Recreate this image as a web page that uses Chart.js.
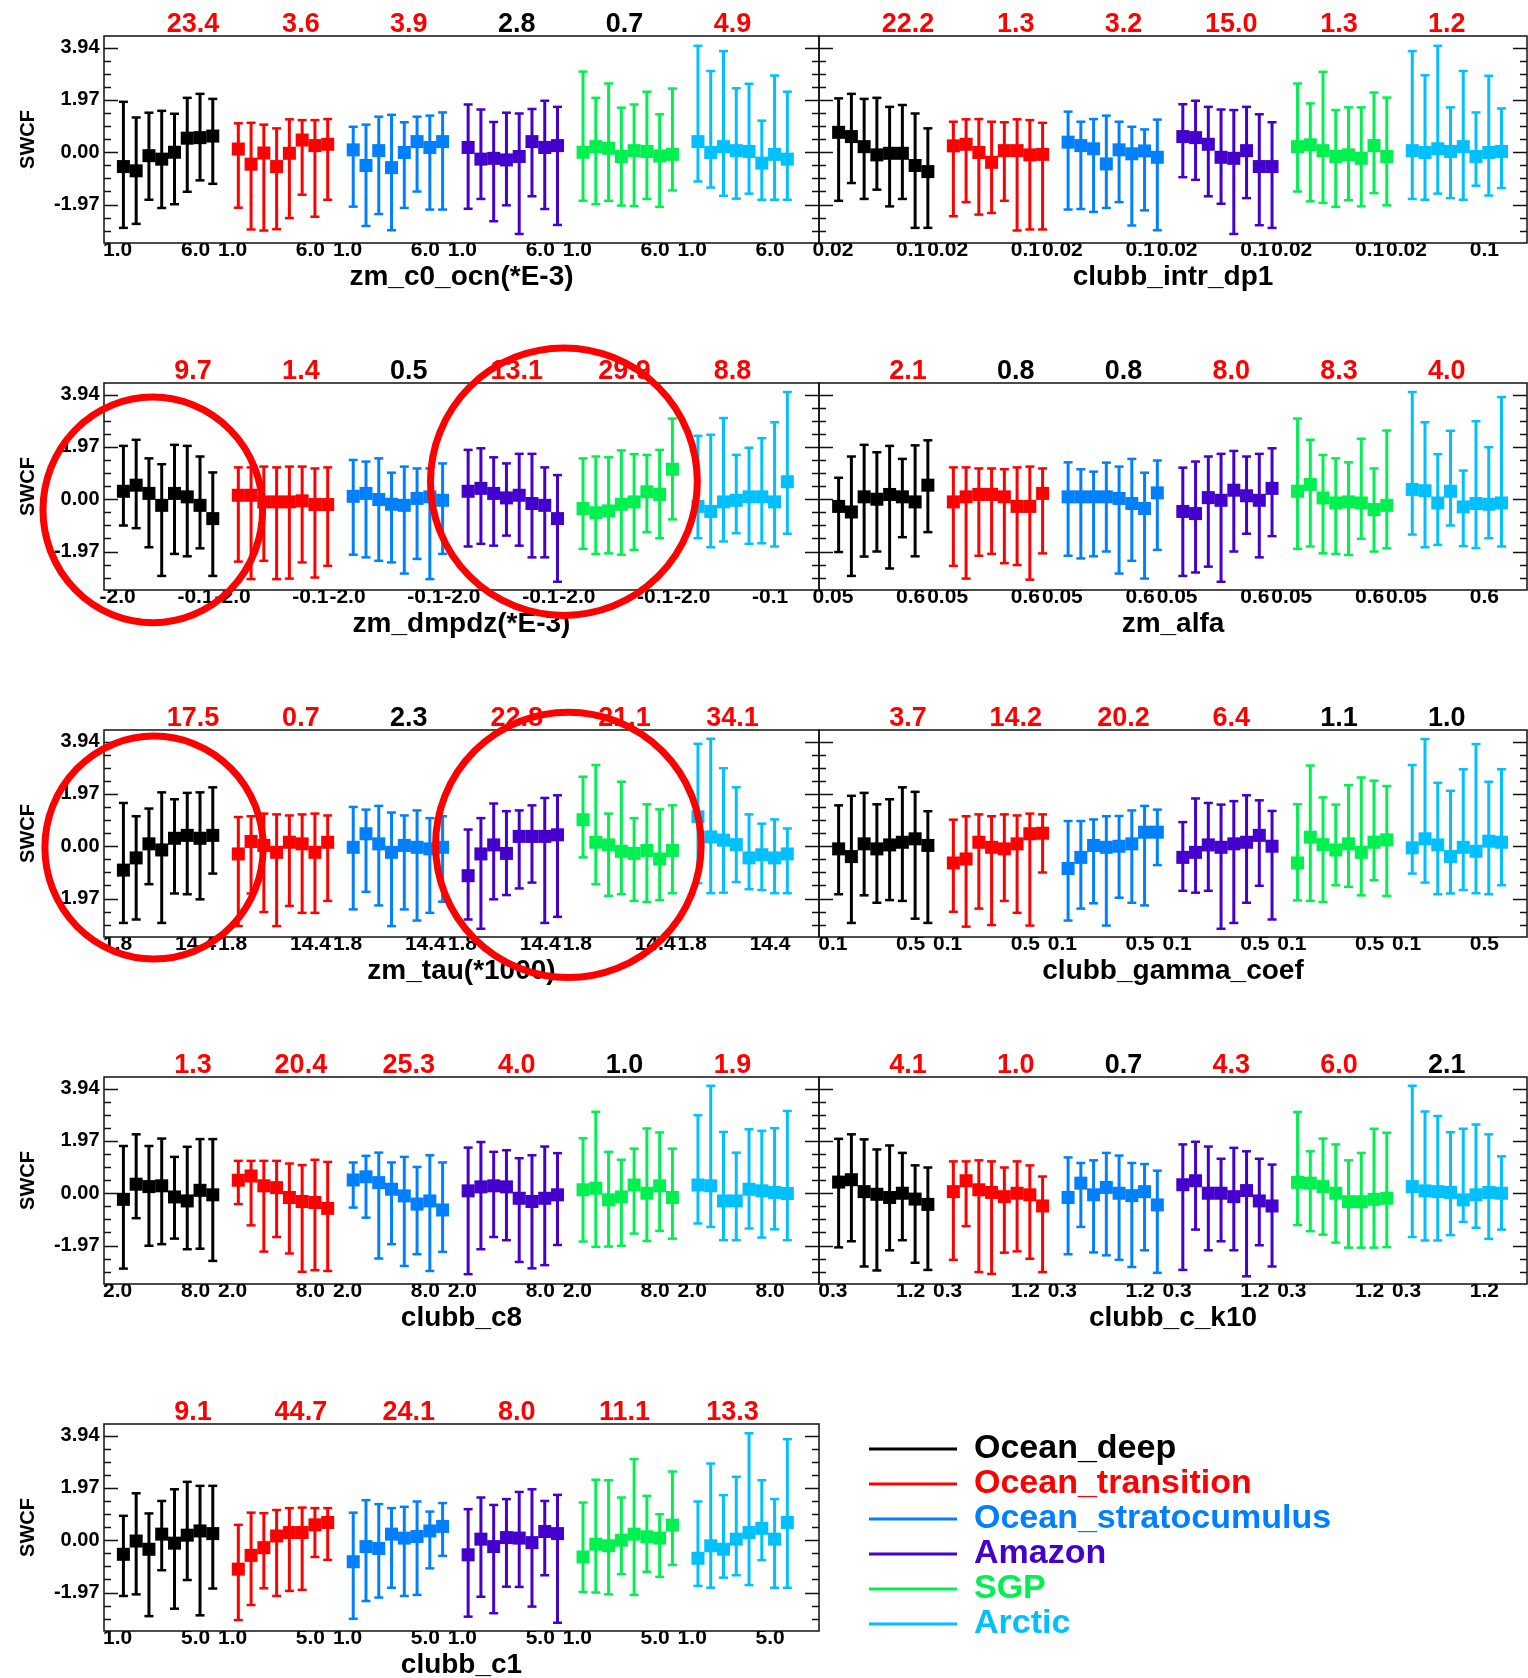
<!DOCTYPE html>
<html>
<head>
<meta charset="utf-8">
<title>SWCF parameter sensitivity</title>
<script src="https://cdn.jsdelivr.net/npm/chart.js@4.4.1/dist/chart.umd.min.js"></script>
<style>
  html, body { margin: 0; padding: 0; background: #fff; overflow: hidden; }
  #page { position: relative; width: 1528px; height: 1678px; overflow: hidden; background: #fff; }
  #page canvas { position: absolute; }
</style>
</head>
<body>
<div id="page"></div>
<script>
const regions = ["Ocean_deep", "Ocean_transition", "Ocean_stratocumulus", "Amazon", "SGP", "Arctic"];
const regionColors = ["#000000", "#ff0000", "#0080ff", "#4400cc", "#00f050", "#00c0ff"];

const panelTitles = ["zm_c0_ocn(*E-3)", "clubb_intr_dp1", "zm_dmpdz(*E-3)", "zm_alfa", "zm_tau(*1000)",
  "clubb_gamma_coef", "clubb_c8", "clubb_c_k10", "clubb_c1"];
const rangeStart = ["1.0", "0.02", "-2.0", "0.05", "1.8", "0.1", "2.0", "0.3", "1.0"];
const rangeEnd = ["6.0", "0.1", "-0.1", "0.6", "14.4", "0.5", "8.0", "1.2", "5.0"];
const yTickValues = [-1.97, 0, 1.97, 3.94];
const paramSteps = [0, 1, 2, 3, 4, 5, 6, 7];

const scores = [
  [23.4, 3.6, 3.9, 2.8, 0.7, 4.9],
  [22.2, 1.3, 3.2, 15.0, 1.3, 1.2],
  [9.7, 1.4, 0.5, 13.1, 29.9, 8.8],
  [2.1, 0.8, 0.8, 8.0, 8.3, 4.0],
  [17.5, 0.7, 2.3, 22.8, 21.1, 34.1],
  [3.7, 14.2, 20.2, 6.4, 1.1, 1.0],
  [1.3, 20.4, 25.3, 4.0, 1.0, 1.9],
  [4.1, 1.0, 0.7, 4.3, 6.0, 2.1],
  [9.1, 44.7, 24.1, 8.0, 11.1, 13.3]
];
const significant = [
  [1, 1, 1, 0, 0, 1],
  [1, 1, 1, 1, 1, 1],
  [1, 1, 0, 1, 1, 1],
  [1, 0, 0, 1, 1, 1],
  [1, 1, 0, 1, 1, 1],
  [1, 1, 1, 1, 0, 0],
  [1, 1, 1, 1, 0, 1],
  [1, 1, 0, 1, 1, 0],
  [1, 1, 1, 1, 1, 1]
];

// zm_c0_ocn
const c0OcnMean = [
  [-0.54, -0.70, -0.13, -0.26, 0.00, 0.53, 0.55, 0.61],
  [0.12, -0.45, -0.03, -0.54, -0.04, 0.46, 0.25, 0.30],
  [0.09, -0.50, 0.06, -0.58, -0.01, 0.40, 0.18, 0.40],
  [0.18, -0.26, -0.23, -0.29, -0.16, 0.40, 0.18, 0.25],
  [0.00, 0.21, 0.15, -0.16, 0.06, 0.03, -0.14, -0.08],
  [0.40, -0.01, 0.21, 0.06, 0.03, -0.41, -0.08, -0.26]
];
const c0OcnHigh = [
  [1.90, 1.31, 1.49, 1.56, 1.45, 2.05, 2.20, 2.01],
  [1.09, 1.11, 1.04, 0.90, 1.24, 1.21, 1.21, 1.25],
  [0.96, 1.04, 1.34, 1.41, 1.13, 1.34, 1.38, 1.50],
  [1.80, 1.61, 1.14, 1.49, 1.46, 1.63, 1.94, 1.71],
  [3.04, 2.05, 2.59, 1.68, 1.80, 2.28, 1.43, 2.40],
  [4.01, 3.06, 3.81, 2.41, 2.58, 1.19, 2.89, 2.28]
];
const c0OcnLow = [
  [-2.85, -2.70, -1.79, -2.10, -1.96, -1.49, -1.06, -1.19],
  [-2.09, -2.91, -2.95, -2.90, -2.48, -1.60, -2.43, -1.79],
  [-2.05, -2.78, -2.33, -2.94, -2.10, -1.48, -2.16, -2.16],
  [-2.13, -1.76, -2.60, -2.00, -3.08, -1.66, -2.14, -2.74],
  [-1.83, -1.96, -1.83, -2.01, -2.03, -1.76, -2.06, -1.44],
  [-1.10, -1.33, -1.64, -1.75, -1.56, -1.79, -1.79, -1.79]
];

// clubb_intr_dp1
const intrDp1Mean = [
  [0.75, 0.59, 0.21, -0.10, -0.04, -0.04, -0.50, -0.73],
  [0.24, 0.30, -0.01, -0.38, 0.06, 0.06, -0.10, -0.08],
  [0.38, 0.25, 0.13, -0.44, 0.09, -0.06, 0.05, -0.19],
  [0.59, 0.55, 0.30, -0.19, -0.23, 0.06, -0.54, -0.54],
  [0.21, 0.28, 0.06, -0.16, -0.10, -0.23, 0.25, -0.16],
  [0.06, -0.01, 0.13, 0.03, 0.21, -0.16, -0.01, 0.03]
];
const intrDp1High = [
  [2.03, 2.20, 2.01, 2.05, 1.71, 1.78, 1.46, 0.90],
  [1.15, 1.24, 1.25, 1.15, 1.13, 1.24, 1.21, 1.11],
  [1.53, 1.15, 1.25, 1.38, 1.15, 0.96, 0.86, 1.23],
  [1.81, 1.94, 1.71, 1.61, 1.59, 1.71, 1.43, 1.13],
  [2.59, 1.84, 3.03, 1.59, 1.69, 1.69, 2.25, 2.06],
  [3.81, 2.90, 4.01, 1.69, 3.06, 1.50, 2.88, 1.65]
];
const intrDp1Low = [
  [-1.83, -1.16, -1.76, -1.41, -2.04, -1.76, -2.85, -2.85],
  [-2.41, -1.88, -2.35, -2.29, -1.83, -2.95, -2.91, -2.91],
  [-2.16, -2.14, -2.25, -2.10, -1.88, -2.76, -2.19, -2.94],
  [-0.94, -1.04, -1.66, -1.94, -3.08, -1.73, -2.75, -2.85],
  [-1.48, -1.85, -1.91, -2.06, -1.81, -2.04, -1.54, -2.00],
  [-1.76, -1.79, -1.56, -1.73, -1.79, -1.26, -1.63, -1.35]
];

// zm_dmpdz
const dmpdzMean = [
  [0.30, 0.53, 0.22, -0.23, 0.22, 0.09, -0.23, -0.73],
  [0.15, 0.15, -0.10, -0.10, -0.10, -0.06, -0.20, -0.20],
  [0.11, 0.22, -0.01, -0.19, -0.23, 0.03, 0.09, -0.04],
  [0.30, 0.41, 0.22, 0.05, 0.15, -0.16, -0.23, -0.73],
  [-0.35, -0.51, -0.44, -0.19, -0.10, 0.28, 0.18, 1.13],
  [-0.27, -0.46, -0.10, -0.04, 0.09, 0.09, -0.10, 0.66]
];
const dmpdzHigh = [
  [2.01, 2.24, 1.54, 1.32, 2.05, 2.01, 1.61, 1.01],
  [1.20, 1.20, 1.23, 1.20, 1.23, 1.23, 1.16, 1.20],
  [1.48, 1.42, 1.54, 1.00, 1.23, 1.16, 1.16, 1.35],
  [1.86, 1.92, 1.58, 1.35, 1.71, 1.71, 1.20, 0.91],
  [1.54, 1.61, 1.58, 1.84, 1.70, 1.67, 1.86, 3.04],
  [2.39, 2.43, 3.06, 1.67, 1.94, 2.30, 2.90, 4.04]
];
const dmpdzLow = [
  [-0.99, -1.09, -1.81, -2.89, -2.06, -2.15, -1.85, -2.89],
  [-2.35, -3.01, -2.32, -3.01, -2.99, -2.38, -2.95, -2.51],
  [-2.09, -2.19, -2.32, -2.38, -2.80, -2.25, -3.01, -2.06],
  [-1.78, -1.68, -1.75, -1.37, -1.75, -2.19, -2.19, -3.11],
  [-1.87, -2.06, -2.04, -2.09, -1.91, -1.24, -1.47, -0.76],
  [-1.47, -1.81, -1.59, -1.28, -1.68, -1.66, -1.78, -1.30]
];

// zm_alfa
const alfaMean = [
  [-0.27, -0.48, 0.09, 0.00, 0.18, 0.09, -0.10, 0.53],
  [-0.10, 0.09, 0.18, 0.18, 0.09, -0.27, -0.27, 0.22],
  [0.09, 0.09, 0.09, 0.09, 0.03, -0.16, -0.35, 0.24],
  [-0.46, -0.54, 0.06, -0.04, 0.34, 0.13, -0.04, 0.41],
  [0.30, 0.56, 0.05, -0.14, -0.10, -0.14, -0.39, -0.23],
  [0.37, 0.32, -0.14, 0.30, -0.29, -0.16, -0.19, -0.14]
];
const alfaHigh = [
  [0.81, 1.61, 2.05, 1.77, 2.01, 1.52, 2.03, 2.22],
  [1.20, 1.20, 1.16, 1.16, 1.13, 1.20, 1.23, 1.16],
  [1.39, 1.13, 1.04, 1.38, 1.23, 1.52, 1.00, 1.46],
  [1.19, 1.42, 1.61, 1.71, 1.82, 1.61, 1.71, 1.92],
  [3.04, 2.24, 1.67, 1.54, 1.39, 2.28, 1.16, 2.59],
  [4.04, 2.90, 1.70, 2.58, 1.08, 2.94, 1.96, 3.85]
];
const alfaLow = [
  [-1.99, -2.89, -2.16, -1.97, -2.61, -1.43, -2.15, -1.24],
  [-2.51, -2.99, -2.13, -2.06, -2.41, -2.48, -3.03, -2.04],
  [-2.13, -2.23, -2.15, -1.97, -2.80, -2.32, -2.99, -1.91],
  [-2.89, -2.76, -2.54, -3.11, -1.97, -1.30, -2.19, -1.39],
  [-1.87, -1.78, -2.04, -2.06, -2.10, -1.49, -1.97, -1.85],
  [-1.33, -1.81, -1.72, -0.99, -1.77, -1.84, -1.47, -1.78]
];

// zm_tau
const tauMean = [
  [-0.90, -0.44, 0.09, -0.14, 0.30, 0.41, 0.30, 0.41],
  [-0.29, 0.18, 0.03, -0.23, 0.15, 0.09, -0.23, 0.15],
  [-0.04, 0.47, 0.09, -0.23, 0.03, -0.04, -0.10, -0.04],
  [-1.11, -0.29, 0.05, -0.27, 0.37, 0.37, 0.37, 0.43],
  [1.00, 0.15, 0.05, -0.19, -0.27, -0.16, -0.48, -0.16],
  [1.11, 0.35, 0.23, 0.06, -0.44, -0.32, -0.44, -0.29]
];
const tauHigh = [
  [1.63, 1.13, 1.42, 2.03, 1.77, 2.01, 2.03, 2.22],
  [1.10, 1.13, 1.23, 1.20, 1.16, 1.20, 1.23, 1.16],
  [1.48, 1.38, 1.52, 1.27, 1.16, 1.35, 1.06, 1.13],
  [0.63, 1.06, 1.61, 1.32, 1.35, 1.54, 1.82, 1.92],
  [2.62, 3.06, 1.23, 2.43, 1.06, 1.58, 1.39, 1.54],
  [3.86, 4.05, 2.94, 2.22, 1.20, 0.85, 1.01, 0.67]
];
const tauLow = [
  [-2.89, -2.76, -1.43, -2.89, -1.78, -1.81, -2.00, -1.03],
  [-3.01, -1.78, -2.48, -3.01, -2.25, -2.51, -2.51, -2.06],
  [-2.38, -1.72, -2.23, -3.01, -2.38, -2.80, -2.51, -2.09],
  [-2.76, -3.11, -2.00, -1.84, -1.59, -1.37, -2.89, -2.66],
  [-0.42, -1.43, -1.87, -1.81, -2.06, -2.10, -2.03, -1.77],
  [-1.39, -1.77, -1.75, -1.35, -1.62, -1.65, -1.77, -1.77]
];

// clubb_gamma_coef
const gammaMean = [
  [-0.10, -0.39, 0.09, -0.10, 0.05, 0.15, 0.28, 0.03],
  [-0.63, -0.48, 0.15, -0.04, -0.10, 0.09, 0.47, 0.49],
  [-0.84, -0.42, 0.03, -0.04, 0.00, 0.09, 0.53, 0.53],
  [-0.42, -0.23, 0.05, -0.04, 0.09, 0.15, 0.41, 0.00],
  [-0.63, 0.34, 0.06, -0.14, 0.09, -0.23, 0.15, 0.24],
  [-0.06, 0.28, 0.05, -0.39, -0.04, -0.19, 0.19, 0.15]
];
const gammaHigh = [
  [1.54, 1.90, 2.01, 1.58, 1.77, 2.22, 2.05, 1.32],
  [1.00, 1.13, 1.20, 1.13, 1.20, 1.16, 1.23, 1.20],
  [0.95, 0.95, 1.01, 1.13, 1.14, 1.35, 1.52, 1.38],
  [0.91, 1.80, 1.63, 1.57, 1.70, 1.92, 1.73, 1.33],
  [1.58, 3.04, 1.84, 1.57, 2.30, 2.59, 2.47, 2.27],
  [3.06, 4.04, 2.39, 2.09, 2.90, 3.85, 2.43, 2.90]
];
const gammaLow = [
  [-1.81, -2.89, -1.85, -2.13, -2.03, -2.06, -2.73, -2.89],
  [-2.47, -3.03, -2.35, -2.97, -2.06, -2.51, -2.99, -0.99],
  [-2.80, -2.35, -2.15, -2.99, -1.94, -2.13, -2.23, -0.71],
  [-1.68, -1.75, -1.68, -3.11, -2.89, -2.13, -1.49, -2.76],
  [-2.04, -2.06, -2.10, -1.47, -1.53, -1.85, -1.28, -1.87],
  [-1.03, -1.37, -1.81, -1.78, -1.65, -1.77, -1.81, -1.47]
];

// clubb_c8
const c8Mean = [
  [-0.23, 0.34, 0.25, 0.28, -0.14, -0.29, 0.11, -0.06],
  [0.49, 0.65, 0.28, 0.21, -0.16, -0.31, -0.35, -0.57],
  [0.50, 0.62, 0.40, 0.15, -0.10, -0.41, -0.29, -0.63],
  [0.09, 0.24, 0.28, 0.24, -0.19, -0.31, -0.19, -0.06],
  [0.13, 0.19, -0.25, -0.14, 0.31, 0.00, 0.28, -0.16],
  [0.31, 0.28, -0.29, -0.29, 0.15, 0.09, 0.03, -0.01]
];
const c8High = [
  [1.78, 2.22, 1.78, 2.06, 1.37, 1.75, 2.04, 2.04],
  [1.22, 1.22, 1.22, 1.22, 1.12, 1.06, 1.26, 1.18],
  [1.16, 1.41, 1.53, 1.16, 1.37, 0.99, 1.43, 1.16],
  [1.72, 1.93, 1.56, 1.62, 1.32, 1.43, 1.76, 1.51],
  [2.07, 3.07, 1.56, 1.26, 1.68, 2.44, 2.29, 1.68],
  [2.94, 4.05, 2.31, 1.53, 2.41, 2.35, 2.45, 3.10]
];
const c8Low = [
  [-2.84, -0.94, -1.98, -1.92, -1.71, -2.11, -2.09, -2.55],
  [-0.41, -1.21, -2.20, -1.65, -2.27, -2.96, -2.90, -2.93],
  [-0.54, -0.92, -2.46, -1.92, -2.74, -2.30, -2.93, -2.21],
  [-3.05, -2.11, -1.65, -1.77, -2.59, -2.83, -2.71, -1.95],
  [-1.82, -2.02, -2.01, -1.98, -1.52, -1.80, -1.42, -1.71],
  [-1.14, -1.27, -1.77, -1.77, -1.33, -1.67, -1.36, -1.77]
];

// clubb_c_k10
const cK10Mean = [
  [0.42, 0.51, 0.06, -0.04, -0.16, 0.00, -0.22, -0.42],
  [0.06, 0.47, 0.13, 0.03, -0.13, 0.00, -0.06, -0.48],
  [-0.16, 0.38, -0.06, 0.22, 0.00, -0.09, 0.06, -0.44],
  [0.32, 0.47, 0.00, 0.00, -0.13, 0.10, -0.29, -0.48],
  [0.41, 0.38, 0.25, 0.00, -0.32, -0.32, -0.23, -0.19],
  [0.25, 0.09, 0.06, 0.03, -0.25, -0.06, 0.03, 0.00]
];
const cK10High = [
  [2.05, 2.22, 2.03, 1.65, 1.80, 1.52, 1.05, 0.97],
  [1.20, 1.20, 1.24, 1.20, 0.97, 1.20, 1.05, 0.63],
  [1.35, 1.14, 1.24, 1.52, 1.42, 1.14, 1.10, 0.85],
  [1.84, 1.94, 1.76, 1.30, 1.71, 1.58, 1.30, 1.08],
  [3.06, 1.58, 2.06, 1.84, 1.24, 1.52, 2.43, 2.28],
  [4.05, 3.08, 2.91, 2.30, 2.43, 2.59, 2.22, 1.39]
];
const cK10Low = [
  [-2.04, -1.81, -2.76, -2.91, -2.15, -1.77, -2.62, -2.89],
  [-2.51, -1.24, -2.97, -3.04, -2.24, -2.19, -2.47, -2.97],
  [-2.30, -1.27, -2.23, -2.34, -2.51, -2.78, -2.15, -3.00],
  [-2.89, -1.37, -2.15, -1.81, -2.15, -3.13, -1.96, -2.76],
  [-1.20, -1.43, -1.56, -1.86, -2.05, -2.05, -2.05, -2.03],
  [-1.65, -1.78, -1.78, -1.58, -1.08, -1.30, -1.72, -1.37]
];

// clubb_c1
const c1Mean = [
  [-0.53, -0.03, -0.34, 0.23, -0.11, 0.19, 0.35, 0.25],
  [-1.09, -0.57, -0.28, 0.16, 0.29, 0.29, 0.58, 0.67],
  [-0.81, -0.24, -0.31, 0.23, 0.08, 0.14, 0.35, 0.52],
  [-0.55, 0.04, -0.24, 0.10, 0.08, -0.09, 0.33, 0.25],
  [-0.63, -0.15, -0.21, 0.00, 0.23, 0.13, 0.08, 0.57],
  [-0.68, -0.21, -0.34, 0.04, 0.29, 0.45, 0.04, 0.67]
];
const c1High = [
  [0.92, 1.77, 1.01, 1.48, 1.92, 2.20, 2.05, 2.05],
  [0.58, 1.04, 1.02, 1.14, 1.21, 1.23, 1.21, 1.21],
  [1.04, 1.51, 1.36, 1.21, 1.26, 1.46, 1.08, 1.40],
  [1.17, 1.61, 1.33, 1.55, 1.82, 1.92, 1.48, 1.71],
  [1.42, 2.28, 2.26, 1.61, 3.06, 1.67, 0.98, 2.59],
  [1.46, 2.89, 1.70, 2.39, 4.03, 2.26, 1.55, 3.81]
];
const c1Low = [
  [-2.10, -2.04, -2.86, -1.13, -2.58, -1.50, -2.83, -1.82],
  [-3.01, -2.44, -1.81, -2.10, -1.91, -1.87, -0.63, -0.74],
  [-2.96, -2.29, -2.16, -1.79, -2.10, -2.06, -1.06, -0.59],
  [-2.88, -2.13, -2.75, -1.75, -1.76, -2.50, -1.32, -3.11],
  [-1.95, -1.97, -2.04, -1.28, -2.06, -1.19, -1.38, -0.93],
  [-1.72, -1.79, -1.41, -1.32, -1.69, -0.75, -1.79, -1.79]
];

const means = [c0OcnMean, intrDp1Mean, dmpdzMean, alfaMean, tauMean, gammaMean, c8Mean, cK10Mean, c1Mean];
const highs = [c0OcnHigh, intrDp1High, dmpdzHigh, alfaHigh, tauHigh, gammaHigh, c8High, cK10High, c1High];
const lows = [c0OcnLow, intrDp1Low, dmpdzLow, alfaLow, tauLow, gammaLow, c8Low, cK10Low, c1Low];

// hand-drawn red ellipses, in slot / SWCF units of the panel they sit on
const highlights = [
  { panel: 2, x: 2.3, y: -0.4, rx: 8.6, ry: 4.25 },
  { panel: 2, x: 34.5, y: 0.66, rx: 10.45, ry: 5.04 },
  { panel: 4, x: 2.4, y: -0.05, rx: 8.55, ry: 4.2 },
  { panel: 4, x: 34.85, y: 0.05, rx: 10.4, ry: 5.0 }
];

const groupSpan = 9;
const rowTop = 36;
const rowStep = 346.9;
const frameHeight = 207;
const headSpace = 45;
const footSpace = 65;

Chart.defaults.font.family = "'Liberation Sans', Arial, Helvetica, sans-serif";
Chart.defaults.font.weight = "bold";
Chart.defaults.color = "#000";

const page = document.getElementById("page");

const framePlugin = {
  id: "frame",
  afterDatasetsDraw(chart) {
    const { ctx, chartArea: a, scales } = chart;
    const y = scales.y;
    const minorStep = yTickValues[2] / 4;

    ctx.save();
    ctx.strokeStyle = "#111";
    ctx.lineWidth = 1.5;
    ctx.strokeRect(a.left, a.top, a.right - a.left, a.bottom - a.top);

    ctx.beginPath();
    for (let k = -8; k <= 10; k++) {
      const v = k * minorStep;
      if (v <= y.min || v >= y.max) continue;
      const py = Math.round(y.getPixelForValue(v)) + 0.5;
      const len = k % 4 === 0 ? 14 : 7;
      ctx.moveTo(a.left, py);
      ctx.lineTo(a.left + len, py);
      ctx.moveTo(a.right, py);
      ctx.lineTo(a.right - len, py);
    }
    ctx.stroke();
    ctx.restore();
  }
};

const highlightPlugin = {
  id: "highlight",
  afterDraw(chart, args, opts) {
    const marks = highlights.filter((h) => h.panel === opts.panel);
    if (!marks.length) return;
    const { ctx, scales } = chart;
    ctx.save();
    ctx.strokeStyle = "#ff0000";
    ctx.lineWidth = 7;
    marks.forEach((h) => {
      const cx = scales.x.getPixelForValue(h.x);
      const cy = scales.y.getPixelForValue(h.y);
      const rx = scales.x.getPixelForValue(h.x + h.rx) - cx;
      const ry = cy - scales.y.getPixelForValue(h.y + h.ry);
      ctx.beginPath();
      ctx.ellipse(cx, cy, rx, ry, 0, 0, Math.PI * 2);
      ctx.stroke();
    });
    ctx.restore();
  }
};

panelTitles.forEach((title, p) => {
  const row = Math.floor(p / 2);
  const isLeft = p % 2 === 0;
  const canvas = document.createElement("canvas");
  canvas.width = isLeft ? 830 : 747;
  canvas.height = headSpace + frameHeight + footSpace;
  canvas.style.left = (isLeft ? 0 : 790) + "px";
  canvas.style.top = Math.round(rowTop + row * rowStep - headSpace) + "px";
  page.appendChild(canvas);
  createPanel(canvas, p, isLeft);
});

createLegend();

function fixHeight(height) {
  // pin the axis box and drop the label overhang padding so every frame lines up
  return (scale) => {
    scale.height = height;
    scale.paddingLeft = 0;
    scale.paddingRight = 0;
  };
}

function createPanel(canvas, p, isLeft) {
  const datasets = [];

  regions.forEach((name, r) => {
    const color = regionColors[r];
    const xs = paramSteps.map((step) => r * groupSpan + step);

    datasets.push({
      type: "bar",
      label: name,
      xAxisID: "x",
      yAxisID: "y",
      data: xs.map((x, i) => ({ x: x, y: [lows[p][r][i], highs[p][r][i]] })),
      backgroundColor: color,
      borderWidth: 0,
      grouped: false,
      maxBarThickness: 3,
      order: 3
    });

    datasets.push({
      type: "scatter",
      xAxisID: "x",
      yAxisID: "y",
      data: xs.flatMap((x, i) => [{ x: x, y: lows[p][r][i] }, { x: x, y: highs[p][r][i] }]),
      pointStyle: "line",
      pointRadius: 4.5,
      pointBorderWidth: 2.5,
      pointBorderColor: color,
      order: 2
    });

    datasets.push({
      type: "scatter",
      xAxisID: "x",
      yAxisID: "y",
      data: xs.map((x, i) => ({ x: x, y: means[p][r][i] })),
      pointStyle: "rect",
      pointRadius: 9.2,
      pointBackgroundColor: color,
      pointBorderWidth: 0,
      order: 1
    });
  });

  const rangeTicks = regions.flatMap((_, r) => [r * groupSpan - 0.45, r * groupSpan + 5.65]);
  const scoreTicks = regions.map((_, r) => 5.45 + 8.45 * r);
  const xMin = isLeft ? -1.52 : -1.54;
  const xMax = isLeft ? 54.48 : 54.0;

  new Chart(canvas, {
    type: "scatter",
    data: { datasets: datasets },
    options: {
      responsive: false,
      animation: false,
      events: [],
      layout: { autoPadding: false, padding: { left: 0, right: isLeft ? 11 : 10, top: 0, bottom: 0 } },
      scales: {
        x: {
          type: "linear",
          position: "bottom",
          min: xMin,
          max: xMax,
          offset: false,
          afterBuildTicks: (scale) => {
            scale.ticks = rangeTicks.map((v) => ({ value: v }));
          },
          afterFit: fixHeight(footSpace),
          ticks: {
            autoSkip: false,
            maxRotation: 0,
            padding: -5,
            font: { size: 21 },
            callback: (value, index) => (index % 2 === 0 ? rangeStart[p] : rangeEnd[p])
          },
          grid: { display: false, drawTicks: false },
          border: { display: false },
          title: {
            display: true,
            text: panelTitles[p],
            font: { size: 28 },
            padding: { top: 0, bottom: 14 }
          }
        },
        x2: {
          type: "linear",
          position: "top",
          min: xMin,
          max: xMax,
          offset: false,
          afterBuildTicks: (scale) => {
            scale.ticks = scoreTicks.map((v) => ({ value: v }));
          },
          afterFit: fixHeight(headSpace),
          ticks: {
            autoSkip: false,
            maxRotation: 0,
            padding: -5,
            font: { size: 27 },
            color: (ctx) => (significant[p][ctx.index] ? "#ff0000" : "#000000"),
            callback: (value, index) => scores[p][index].toFixed(1)
          },
          grid: { display: false, drawTicks: false },
          border: { display: false }
        },
        y: {
          type: "linear",
          position: "left",
          min: -3.42,
          max: 4.38,
          afterBuildTicks: (scale) => {
            scale.ticks = yTickValues.map((v) => ({ value: v }));
          },
          afterFit: (scale) => {
            scale.width = isLeft ? 104 : 29;
          },
          ticks: {
            display: isLeft,
            padding: 4.5,
            font: { size: 20 },
            callback: (value) => value.toFixed(2)
          },
          grid: { display: false, drawTicks: false },
          border: { display: false },
          title: {
            display: isLeft,
            text: "SWCF",
            font: { size: 20 },
            padding: { top: 16, bottom: 0 }
          }
        }
      },
      plugins: {
        legend: { display: false },
        tooltip: { enabled: false },
        highlight: { panel: p }
      }
    },
    plugins: [framePlugin, highlightPlugin]
  });
}

function createLegend() {
  const canvas = document.createElement("canvas");
  canvas.width = 680;
  canvas.height = 278;
  canvas.style.left = "840px";
  canvas.style.top = "1400px";
  page.appendChild(canvas);

  new Chart(canvas, {
    type: "line",
    data: {
      datasets: regions.map((name, r) => ({
        label: name,
        data: [],
        borderColor: regionColors[r],
        backgroundColor: regionColors[r]
      }))
    },
    options: {
      responsive: false,
      animation: false,
      events: [],
      layout: { padding: { left: 28, top: 31 } },
      scales: { x: { display: false }, y: { display: false } },
      plugins: {
        tooltip: { enabled: false },
        legend: {
          position: "left",
          align: "start",
          maxWidth: 620,
          labels: {
            boxWidth: 88,
            boxHeight: 3,
            padding: 1,
            font: { size: 34, weight: "bold" },
            generateLabels: (chart) =>
              chart.data.datasets.map((d, i) => ({
                text: d.label,
                fillStyle: d.borderColor,
                strokeStyle: d.borderColor,
                fontColor: d.borderColor,
                lineWidth: 0,
                hidden: false,
                datasetIndex: i
              }))
          }
        }
      }
    }
  });
}
</script>
</body>
</html>
